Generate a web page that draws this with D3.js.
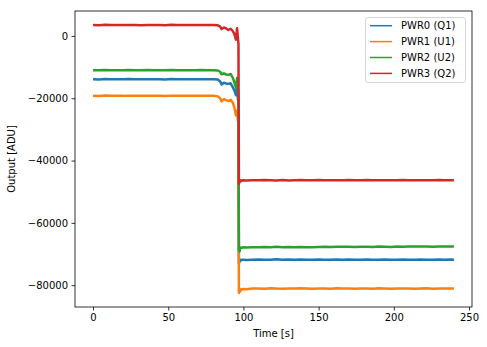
<!DOCTYPE html>
<html><head><meta charset="utf-8">
<script src="https://cdn.jsdelivr.net/npm/d3@7"></script>
<style>
body{margin:0;background:#fff;}
svg{display:block;font-family:"DejaVu Sans",sans-serif;}
</style></head>
<body><svg id="c" width="487" height="347"></svg>
<script>
const times = [0,4,8,12,16,20,24,28,32,36,40,44,48,52,56,60,64,68,72,76,80,
  83,84.5,85.5,87,88.5,90,91.5,93,94,95,95.8,96.3,96.7,
  97.0,97.4,97.8,98.4,99,100,102,
  106,110,114,118,122,126,130,134,138,142,146,150,154,158,162,166,170,174,178,182,186,190,194,198,202,206,210,214,218,222,226,230,234,238,240];

const pwr0 = [-13900,-13950,-13850,-13920,-13880,-13940,-13860,-13900,-13930,-13870,-13910,-13890,-13950,-13860,-13920,-13880,-13900,-13940,-13870,-13910,-13900,
  -14000,-14600,-15600,-15000,-15300,-15400,-15200,-16500,-17500,-19000,-16000,-20000,-21500,
  -73000,-72500,-71800,-72000,-71900,-71800,-71900,
  -71800,-71750,-71850,-71800,-71700,-71850,-71780,-71820,-71750,-71800,-71850,-71760,-71800,-71840,-71780,-71800,-71750,-71830,-71800,-71760,-71820,-71800,-71780,-71840,-71800,-71760,-71800,-71820,-71780,-71800,-71850,-71760,-71800,-71780,-71800];

const pwr1 = [-19200,-19250,-19150,-19220,-19180,-19240,-19160,-19200,-19230,-19170,-19210,-19190,-19250,-19160,-19220,-19180,-19200,-19240,-19170,-19210,-19200,
  -19400,-20000,-21000,-20300,-20600,-20900,-20500,-21500,-23000,-25500,-24000,-27000,-28000,
  -82500,-81500,-82000,-81300,-81400,-81200,-81300,
  -81100,-81050,-81150,-81000,-81100,-81150,-81050,-81100,-81000,-81080,-81150,-81060,-81100,-81140,-81000,-81100,-81050,-81130,-81100,-81060,-81120,-81000,-81080,-81140,-81100,-81060,-81100,-81120,-81080,-81000,-81150,-81060,-81100,-81080,-81100];

const pwr2 = [-11000,-11050,-10950,-11020,-10980,-11040,-10960,-11000,-11030,-10970,-11010,-10990,-11050,-10960,-11020,-10980,-11000,-11040,-10970,-11010,-11000,
  -11100,-11500,-12300,-12000,-12400,-12500,-12200,-13500,-15000,-16500,-13500,-17500,-20000,
  -68500,-69200,-68200,-67900,-68000,-67800,-67900,
  -67800,-67850,-67750,-67800,-67700,-67850,-67780,-67820,-67750,-67800,-67850,-67760,-67700,-67740,-67680,-67700,-67650,-67730,-67700,-67660,-67720,-67600,-67680,-67740,-67600,-67660,-67600,-67620,-67580,-67600,-67650,-67560,-67600,-67580,-67600];

const pwr3 = [3500,3450,3550,3480,3520,3470,3540,3500,3460,3530,3490,3510,3450,3550,3480,3520,3500,3470,3540,3490,3500,
  3400,3000,2200,2700,2400,1900,2300,1500,600,-1200,2500,-500,-2500,
  -47500,-46800,-46300,-46600,-46400,-46300,-46400,
  -46300,-46350,-46250,-46300,-46400,-46250,-46380,-46320,-46250,-46300,-46350,-46260,-46300,-46340,-46280,-46300,-46250,-46330,-46300,-46260,-46320,-46300,-46280,-46340,-46300,-46260,-46300,-46320,-46280,-46300,-46350,-46260,-46300,-46280,-46300];

const seriesNames = ["PWR0 (Q1)","PWR1 (U1)","PWR2 (U2)","PWR3 (Q2)"];
const seriesColors = ["#1f77b4","#ff7f0e","#2ca02c","#d62728"];
const seriesValues = [pwr0,pwr1,pwr2,pwr3];
const xTicks = [0,50,100,150,200,250];
const yTicks = [0,-20000,-40000,-60000,-80000];

const svg = d3.select("#c");
const L=75, R=472, T=11, B=307;
const x = d3.scaleLinear().domain([-12,252]).range([L,R]);
const y = d3.scaleLinear().domain([-87000,8000]).range([B,T]);
const fmt = d => (d<0 ? "\u2212" : "") + Math.abs(d);

svg.append("clipPath").attr("id","pc").append("rect")
  .attr("x",L).attr("y",T).attr("width",R-L).attr("height",B-T);

const line = d3.line().x((d,i)=>x(times[i])).y(d=>y(d));
const g = svg.append("g").attr("clip-path","url(#pc)");
seriesValues.forEach((vals,k)=>{
  g.append("path").datum(vals).attr("d",line)
    .attr("fill","none").attr("stroke",seriesColors[k])
    .attr("stroke-width",2.5).attr("stroke-linejoin","round");
});

const xAxis = svg.append("g").attr("transform",`translate(0,${B})`)
  .call(d3.axisBottom(x).tickValues(xTicks).tickSize(3.5).tickPadding(3.5).tickFormat(fmt));
const yAxis = svg.append("g").attr("transform",`translate(${L},0)`)
  .call(d3.axisLeft(y).tickValues(yTicks).tickSize(3.5).tickPadding(3.5).tickFormat(fmt));
[xAxis,yAxis].forEach(a=>{
  a.select(".domain").remove();
  a.selectAll("text").attr("font-size",10).attr("font-family","DejaVu Sans").attr("fill","#000");
  a.selectAll("line").attr("stroke","#000").attr("stroke-width",0.8);
});

svg.append("rect").attr("x",L).attr("y",T).attr("width",R-L).attr("height",B-T)
  .attr("fill","none").attr("stroke","#000").attr("stroke-width",0.8);

svg.append("text").attr("x",(L+R)/2).attr("y",337).attr("text-anchor","middle")
  .attr("font-size",10).text("Time [s]");
svg.append("text").attr("transform",`translate(15,${(T+B)/2}) rotate(-90)`)
  .attr("text-anchor","middle").attr("font-size",10).text("Output [ADU]");

const lg = svg.append("g");
lg.append("rect").attr("x",365.5).attr("y",17.5).attr("width",100).attr("height",65)
  .attr("rx",2.5).attr("fill","#fff").attr("fill-opacity",0.8)
  .attr("stroke","#cccccc").attr("stroke-width",0.8);
seriesNames.forEach((n,k)=>{
  const yy = 25.7 + k*15.9;
  lg.append("line").attr("x1",370).attr("x2",392).attr("y1",yy).attr("y2",yy)
    .attr("stroke",seriesColors[k]).attr("stroke-width",1.5);
  lg.append("text").attr("x",401).attr("y",yy+3.6).attr("font-size",10).text(n);
});
</script></body></html>
